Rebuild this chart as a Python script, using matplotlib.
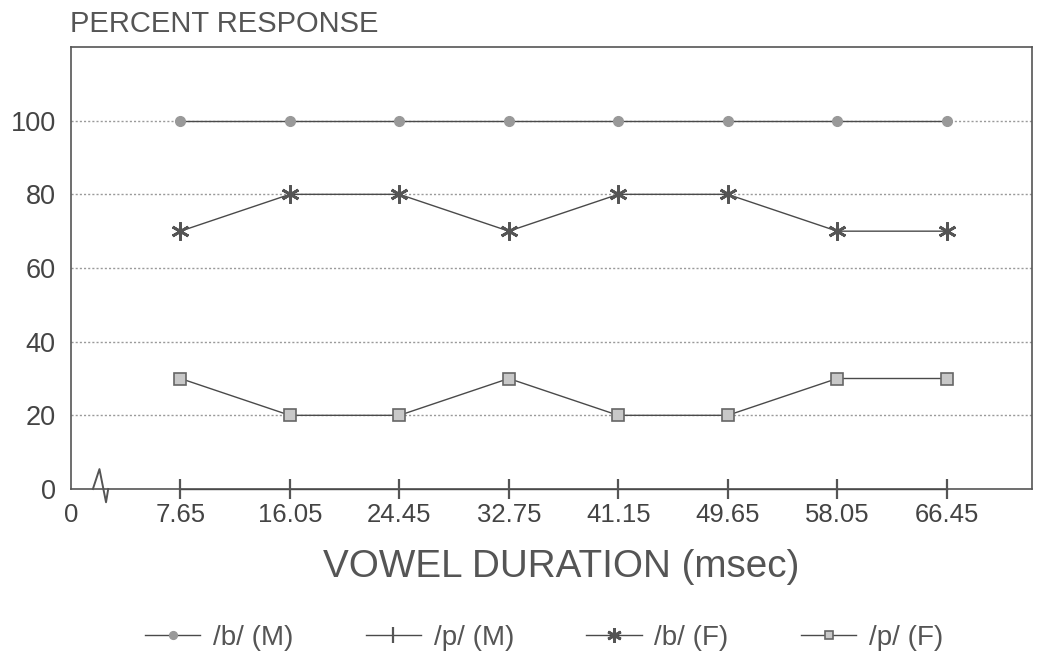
import matplotlib
matplotlib.use("Agg")
import matplotlib.pyplot as plt
from matplotlib.lines import Line2D
import matplotlib.transforms as mtransforms

plt.rcParams['font.family'] = ['Liberation Sans', 'DejaVu Sans']

tick_labels = ['0', '7.65', '16.05', '24.45', '32.75', '41.15', '49.65', '58.05', '66.45']
durations = ['7.65', '16.05', '24.45', '32.75', '41.15', '49.65', '58.05', '66.45']
b_M = [100, 100, 100, 100, 100, 100, 100, 100]
p_M = [0, 0, 0, 0, 0, 0, 0, 0]
b_F = [70, 80, 80, 70, 80, 80, 70, 70]
p_F = [30, 20, 20, 30, 20, 20, 30, 30]
y_ticks = [0, 20, 40, 60, 80, 100]

W, H = 1055, 663
fig = plt.figure(figsize=(W / 100, H / 100), dpi=100)
L, R, T, B = 71, 1032, 47, 489
ax = fig.add_axes([L / W, 1 - B / H, (R - L) / W, (B - T) / H])

ink = '#4a4a4a'
mk = '#999999'
xs = list(range(1, len(durations) + 1))

ax.set_xlim(0, 8.78)
ax.set_ylim(0, 120)

for y in y_ticks[1:]:
    ax.axhline(y, color='#9a9a9a', lw=1.0, ls=(0, (1.5, 1.5)), zorder=1)

asterisk = (6, 2, 0)
ax.plot(xs, b_M, color=ink, lw=1.0, marker='o', ms=7, mfc=mk, mec=mk,
        label='/b/ (M)', zorder=3, clip_on=False)
ax.plot(xs, p_M, color=ink, lw=1.0, marker='|', ms=15, mew=1.6, mec='#555555',
        label='/p/ (M)', zorder=3, clip_on=False)
ax.plot(xs, b_F, color=ink, lw=1.0, marker=asterisk, ms=13, mew=2.0, mec='#555555',
        label='/b/ (F)', zorder=3)
ax.plot(xs, p_F, color=ink, lw=1.0, marker='s', ms=8, mfc='#c8c8c8', mec='#666666', mew=1.2,
        label='/p/ (F)', zorder=3)

ax.set_xticks(range(len(tick_labels)))
ax.set_xticklabels(tick_labels)
ax.set_yticks(y_ticks)
ax.tick_params(axis='both', length=0, labelsize=18.5, colors='#444444')
ax.tick_params(axis='x', pad=10)
ax.tick_params(axis='y', pad=11, labelsize=19.5)

for s in ax.spines.values():
    s.set_color('#555555')
    s.set_linewidth(1.2)

# axis break symbol
trans = mtransforms.blended_transform_factory(ax.transData, ax.transAxes)
bx = 0.28
brk = Line2D([bx - 0.08, bx - 0.02, bx + 0.04, bx + 0.06],
             [0.0, 0.045, -0.03, 0.0], transform=trans, color='#555555', lw=1.4,
             clip_on=False, zorder=5)
ax.add_line(brk)

fig.text(70 / W, 1 - 32 / H, 'PERCENT RESPONSE', fontsize=21, color='#555555',
         ha='left', va='baseline')
fig.text(561 / W, 1 - 567 / H, 'VOWEL DURATION (msec)', fontsize=27.8, color='#555555',
         ha='center', va='center')

handles, labels = ax.get_legend_handles_labels()
leg = fig.legend(handles, labels, loc='center', bbox_to_anchor=(544 / W, 1 - 638 / H),
                 ncol=4, frameon=False, fontsize=20, handlelength=2.0,
                 handletextpad=0.45, columnspacing=2.6, labelcolor='#555555')
for h in leg.legend_handles:
    h.set_markersize(h.get_markersize() * 0.8)

fig.savefig('out.png', dpi=100)
